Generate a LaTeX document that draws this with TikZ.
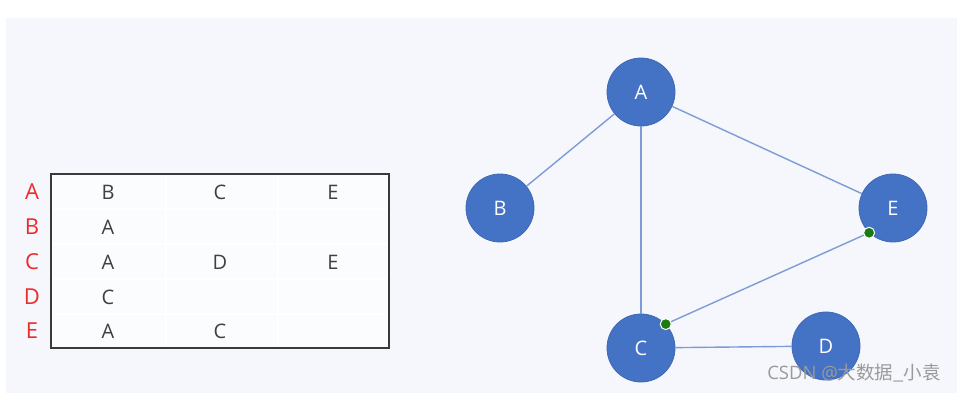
\documentclass[tikz,border=0pt]{standalone}
\usepackage{fontspec}
\setmainfont{Open Sans}
\newfontfamily\cjkfont{Noto Sans CJK SC}
\usetikzlibrary{positioning}
\definecolor{panelfill}{HTML}{F5F7FC}
\definecolor{vtxfill}{HTML}{4472C4}
\definecolor{vtxline}{HTML}{3F68B4}
\definecolor{edgeline}{HTML}{7D9CD6}
\definecolor{tabline}{HTML}{3A3A3A}
\definecolor{tabtext}{HTML}{404040}
\definecolor{rowred}{HTML}{EE2A2A}
\definecolor{handle}{HTML}{1B7A12}
\definecolor{markgray}{HTML}{9A9A9A}
\tikzset{
  vtx/.style    = {circle, fill=vtxfill, draw=vtxline, line width=0.8pt, minimum size=68pt,
                   inner sep=0pt, text=white, font=\fontsize{20}{23}\selectfont},
  edge/.style   = {draw=edgeline, line width=1.4pt},
  cell/.style   = {inner sep=0pt, text=tabtext, font=\fontsize{20}{23}\selectfont},
  rowlbl/.style = {inner sep=0pt, text=rowred, font=\fontsize{22}{25}\selectfont},
  hdl/.style    = {circle, fill=handle, draw=white, line width=1pt, minimum size=11pt, inner sep=0pt},
}

\begin{document}
\begin{tikzpicture}[x=1pt, y=-1pt]
  \useasboundingbox (0,0) rectangle (969,407);
  \fill[panelfill] (6,18) rectangle (957,393);

  % adjacency list
  \fill[white!60!panelfill] (51,174) rectangle (389,348);
  \foreach \yy in {209,244,279,314}{\draw[white, line width=1.5pt] (53,\yy) -- (387,\yy);}
  \foreach \xx in {166,278}{\draw[white, line width=1.5pt] (\xx,176) -- (\xx,346);}
  \draw[tabline, line width=1.3pt] (51,174) rectangle (389,348);
  \foreach \r/\y in {A/192,B/227,C/262,D/297,E/331}{\node[rowlbl] (r\r) at (32,\y) {\r};}
  \node[cell] (a1) at (108,192) {B};
  \node[cell] (a2) at (220,192) {C};
  \node[cell] (a3) at (333,192) {E};
  \node[cell] (b1) at (108,227) {A};
  \node[cell] (c1) at (108,262) {A};
  \node[cell] (c2) at (220,262) {D};
  \node[cell] (c3) at (333,262) {E};
  \node[cell] (d1) at (108,297) {C};
  \node[cell] (e1) at (108,331) {A};
  \node[cell] (e2) at (220,331) {C};

  % graph
  \node[vtx] (A) at (641,92) {A};
  \node[vtx] (B) at (500,208) {B};
  \node[vtx] (E) at (893,208) {E};
  \node[vtx] (C) at (641,348) {C};
  \node[vtx] (D) at (826,346) {D};
  \foreach \a/\b in {A/B,A/C,A/E,C/D}{\draw[edge] (\a) -- (\b);}
  \coordinate (ce) at (C.44);
  \coordinate (ec) at (E.226);
  \draw[edge] (ce) -- (ec);
  \node[hdl] (h1) at (ce) {};
  \node[hdl] (h2) at (ec) {};

  \node[text=markgray, inner sep=0pt, anchor=east, font=\fontsize{18.5}{21}\selectfont] (mark) at (941,373) {CSDN @{\cjkfont 大数据\_小袁}};
\end{tikzpicture}
\end{document}
